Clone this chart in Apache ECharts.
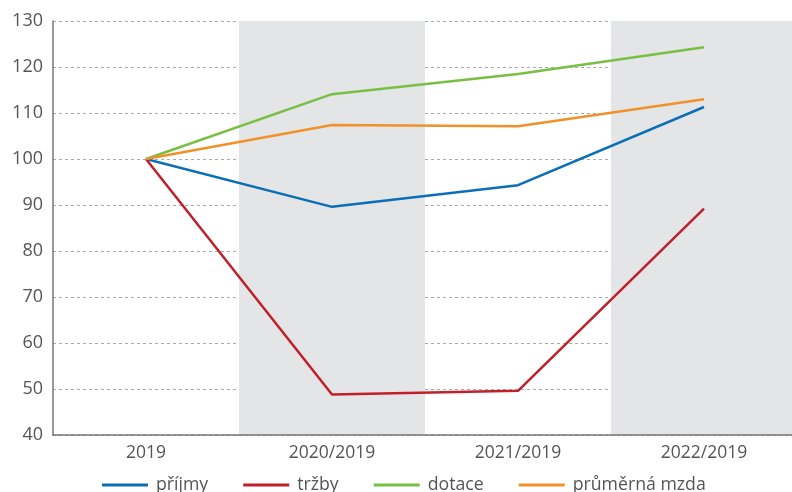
<!DOCTYPE html>
<html>
<head>
<meta charset="utf-8">
<script src="https://cdn.jsdelivr.net/npm/echarts@6/dist/echarts.min.js"></script>
<style>
  html, body { margin: 0; padding: 0; background: #fff; }
  #chart { width: 792px; height: 492px; }
</style>
</head>
<body>
<div id="chart"></div>
<script>
const categories = ['2019', '2020/2019', '2021/2019', '2022/2019'];
const prijmy = [100, 89.6, 94.3, 111.3];
const trzby = [100, 48.8, 49.6, 89.2];
const dotace = [100, 114.1, 118.5, 124.3];
const mzda = [100, 107.4, 107.1, 113.0];

const chart = echarts.init(document.getElementById('chart'), null, { renderer: 'canvas' });

function line(name, data, color) {
  return {
    name: name,
    type: 'line',
    data: data,
    symbol: 'none',
    lineStyle: { width: 2.5, color: color },
    itemStyle: { color: color }
  };
}

const option = {
  animation: false,
  textStyle: { fontFamily: 'Open Sans' },
  grid: { left: 53, width: 744, top: 21, height: 414, outerBoundsMode: 'none' },
  legend: {
    left: 97,
    bottom: -7,
    icon: 'rect',
    itemWidth: 46,
    itemHeight: 3,
    itemGap: 35,
    textStyle: { fontSize: 17.7, color: '#555', fontFamily: 'Open Sans', padding: [0, 0, 0, 3] }
  },
  xAxis: {
    type: 'category',
    data: categories,
    axisLine: { lineStyle: { color: '#777', width: 1.5 } },
    axisTick: { show: false },
    axisLabel: { fontSize: 17.5, color: '#555', margin: 9 },
    splitArea: { show: true, areaStyle: { color: ['rgba(0,0,0,0)', '#e4e5e7'] } }
  },
  yAxis: {
    type: 'value',
    min: 40,
    max: 130,
    interval: 10,
    axisLine: { show: true, lineStyle: { color: '#777', width: 1.5 } },
    axisTick: { show: false },
    axisLabel: { fontSize: 18, color: '#555', margin: 10 },
    splitLine: { lineStyle: { color: '#aaa', type: [3, 3], width: 1 } }
  },
  series: [
    line('příjmy', prijmy, '#0a6fb7'),
    line('tržby', trzby, '#c11f2a'),
    line('dotace', dotace, '#79bf44'),
    line('průměrná mzda', mzda, '#f0912a')
  ]
};

chart.setOption(option);
</script>
</body>
</html>
